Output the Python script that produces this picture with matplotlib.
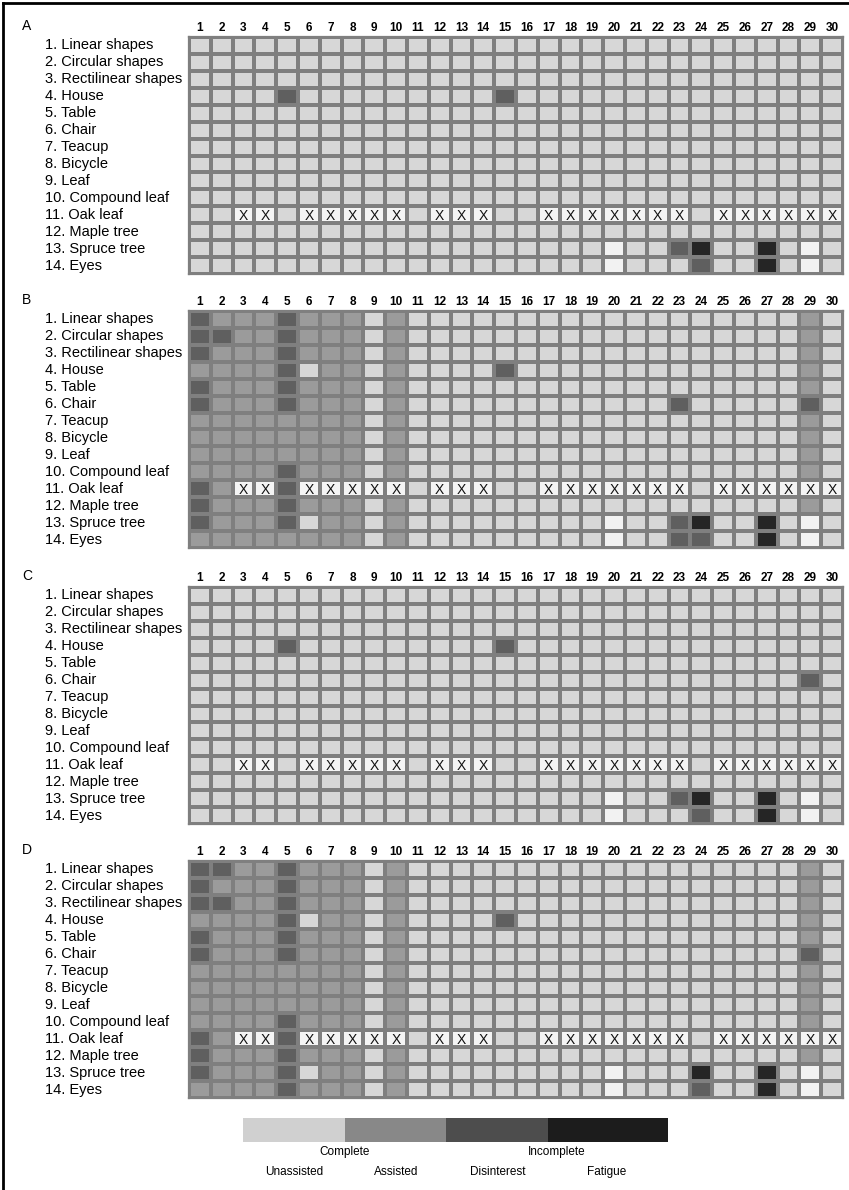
import matplotlib
matplotlib.use("Agg")
import numpy as np
from matplotlib import pyplot as plt
from matplotlib.colors import ListedColormap
from matplotlib.lines import Line2D
from matplotlib import transforms

plt.rcParams['font.family'] = ['Liberation Sans', 'DejaVu Sans']

tasks = [
    "1. Linear shapes", "2. Circular shapes", "3. Rectilinear shapes", "4. House",
    "5. Table", "6. Chair", "7. Teacup", "8. Bicycle", "9. Leaf",
    "10. Compound leaf", "11. Oak leaf", "12. Maple tree", "13. Spruce tree", "14. Eyes",
]
subjects = [str(i) for i in range(1, 31)]

# codes: 0 unassisted, 1 assisted, 2 disinterest, 3 fatigue, 4 blank, X not given
panel_a = [
    "000000000000000000000000000000",
    "000000000000000000000000000000",
    "000000000000000000000000000000",
    "000020000000002000000000000000",
    "000000000000000000000000000000",
    "000000000000000000000000000000",
    "000000000000000000000000000000",
    "000000000000000000000000000000",
    "000000000000000000000000000000",
    "000000000000000000000000000000",
    "00XX0XXXXX0XXX00XXXXXXX0XXXXXX",
    "000000000000000000000000000000",
    "000000000000000000040023003040",
    "000000000000000000040002003040",
]
panel_b = [
    "211121110100000000000000000010",
    "221121110100000000000000000010",
    "211121110100000000000000000010",
    "111120110100002000000000000010",
    "211121110100000000000000000010",
    "211121110100000000000020000020",
    "111111110100000000000000000010",
    "111111110100000000000000000010",
    "111111110100000000000000000010",
    "111121110100000000000000000010",
    "21XX2XXXXX0XXX00XXXXXXX0XXXXXX",
    "211121110100000000000000000010",
    "211120110100000000040023003040",
    "111111110100000000040022003040",
]
panel_c = [
    "000000000000000000000000000000",
    "000000000000000000000000000000",
    "000000000000000000000000000000",
    "000020000000002000000000000000",
    "000000000000000000000000000000",
    "000000000000000000000000000020",
    "000000000000000000000000000000",
    "000000000000000000000000000000",
    "000000000000000000000000000000",
    "000000000000000000000000000000",
    "00XX0XXXXX0XXX00XXXXXXX0XXXXXX",
    "000000000000000000000000000000",
    "000000000000000000040023003040",
    "000000000000000000040002003040",
]
panel_d = [
    "221121110100000000000000000010",
    "211121110100000000000000000010",
    "221121110100000000000000000010",
    "111120110100002000000000000010",
    "211121110100000000000000000010",
    "211121110100000000000000000020",
    "111111110100000000000000000010",
    "111111110100000000000000000010",
    "111111110100000000000000000010",
    "111121110100000000000000000010",
    "21XX2XXXXX0XXX00XXXXXXX0XXXXXX",
    "211121110100000000000000000010",
    "211120110100000000040003003040",
    "111121110100000000040002003040",
]
panels = [("A", panel_a), ("B", panel_b), ("C", panel_c), ("D", panel_d)]

cell_colors = ["#d7d7d7", "#9b9b9b", "#5f5f5f", "#252525", "#f2f2f2", "#f4f4f4"]
legend_colors = ["#d0d0d0", "#888888", "#4d4d4d", "#1c1c1c"]
legend_kinds = ["Unassisted", "Assisted", "Disinterest", "Fatigue"]
legend_groups = ["Complete", "Incomplete"]

W, H = 849, 1190
fig = plt.figure(figsize=(W / 100, H / 100), dpi=100)
cmap = ListedColormap(cell_colors)
code_of = {"0": 0, "1": 1, "2": 2, "3": 3, "4": 4, "X": 5}

grid_left, grid_right, grid_h = 189, 843, 237
tops = [37, 311, 587, 861]

for (letter, rows), top in zip(panels, tops):
    ax = fig.add_axes([grid_left / W, 1 - (top + grid_h) / H,
                       (grid_right - grid_left) / W, grid_h / H])
    z = np.array([[code_of[c] for c in r] for r in rows])
    ax.pcolormesh(np.arange(31), np.arange(15), z, cmap=cmap, vmin=-0.5, vmax=5.5,
                  edgecolors="#7f7f7f", linewidth=1.5)
    for i, r in enumerate(rows):
        for j, c in enumerate(r):
            if c == "X":
                ax.text(j + 0.5, i + 0.55, "X", ha="center", va="center", fontsize=10, color="#111111")
    ax.set_xlim(0, 30)
    ax.set_ylim(14, 0)
    ax.xaxis.tick_top()
    ax.set_xticks(np.arange(30) + 0.5)
    ax.set_xticklabels(subjects, fontsize=8.5, fontweight="bold")
    ax.tick_params(axis="x", length=0, pad=2.5)
    ax.set_yticks([])
    for s in ax.spines.values():
        s.set_color("#7f7f7f")
        s.set_linewidth(1.6)
    trans = transforms.blended_transform_factory(fig.transFigure, ax.transData)
    for i, t in enumerate(tasks):
        ax.text(45 / W, i + 0.5, t, transform=trans, ha="left", va="center", fontsize=10.5)
    fig.text(22 / W, 1 - (top - 11) / H, letter, ha="left", va="center", fontsize=10)

# legend bar
lax = fig.add_axes([243 / W, 1 - 1142 / H, (668 - 243) / W, 24 / H])
lefts = [0, 102, 203, 305]
widths = [102, 101, 102, 120]
lax.barh([0] * 4, widths, left=lefts, height=1, color=legend_colors)
lax.set_xlim(0, 425)
lax.set_ylim(-0.5, 0.5)
lax.axis("off")
fig.text(345 / W, 1 - 1152 / H, legend_groups[0], ha="center", va="center", fontsize=8.5)
fig.text(557 / W, 1 - 1152 / H, legend_groups[1], ha="center", va="center", fontsize=8.5)
for x, k in zip([294, 396, 498, 607], legend_kinds):
    fig.text(x / W, 1 - 1172 / H, k, ha="center", va="center", fontsize=8.5)

# frame lines at top and left
fig.add_artist(Line2D([3 / W, 1], [1 - 3 / H, 1 - 3 / H], color="black", linewidth=2))
fig.add_artist(Line2D([3 / W, 3 / W], [0, 1 - 3 / H], color="black", linewidth=2))

fig.savefig("out.png", dpi=100)
